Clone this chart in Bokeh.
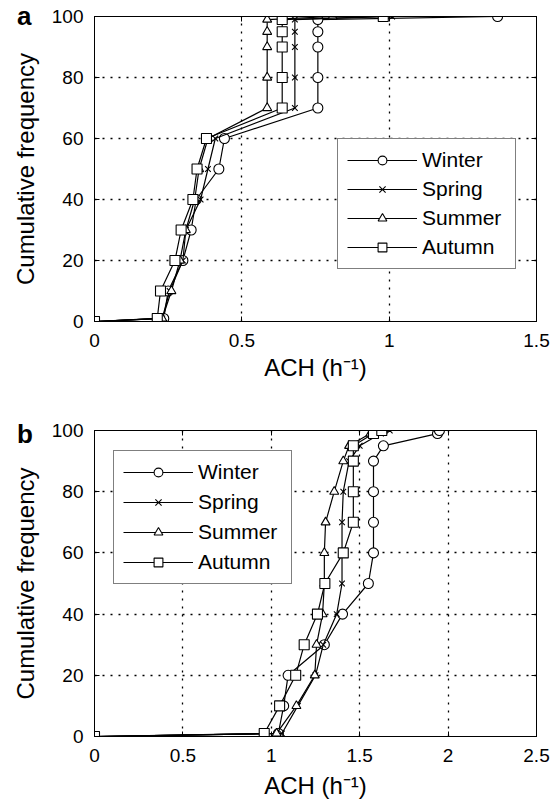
from bokeh.plotting import figure
from bokeh.models import FixedTicker, LinearAxis, Range1d, Legend, LegendItem, Div
from bokeh.layouts import column
from bokeh.embed import file_html
from bokeh.resources import INLINE

series_names = ["Winter", "Spring", "Summer", "Autumn"]
levels = [0, 1, 10, 20, 30, 40, 50, 60, 70, 80, 90, 95, 99, 100]

# Panel a
a_winter = [0, 0.235, 0.25, 0.30, 0.328, 0.345, 0.422, 0.441, 0.758, 0.758, 0.758, 0.758, 0.758, 1.368]
a_spring = [0, 0.23, 0.255, 0.30, 0.31, 0.36, 0.385, 0.41, 0.68, 0.68, 0.68, 0.68, 0.68, 1.01]
a_summer = [0, 0.23, 0.261, 0.29, 0.31, 0.34, 0.355, 0.385, 0.586, 0.586, 0.586, 0.586, 0.586, 0.808]
a_autumn = [0, 0.213, 0.224, 0.273, 0.294, 0.334, 0.348, 0.380, 0.637, 0.637, 0.637, 0.637, 0.637, 0.98]

# Panel b
b_winter = [0, 1.04, 1.07, 1.095, 1.30, 1.403, 1.549, 1.578, 1.578, 1.578, 1.578, 1.634, 1.94, 1.951]
b_spring = [0, 1.06, 1.15, 1.25, 1.294, 1.37, 1.40, 1.40, 1.40, 1.407, 1.44, 1.50, 1.62, 1.67]
b_summer = [0, 1.03, 1.142, 1.246, 1.256, 1.29, 1.30, 1.30, 1.307, 1.356, 1.407, 1.44, 1.56, 1.60]
b_autumn = [0, 0.96, 1.047, 1.138, 1.186, 1.261, 1.303, 1.407, 1.464, 1.464, 1.464, 1.464, 1.578, 1.625]

a_xticks = [0, 0.5, 1, 1.5]
a_xtick_labels = ["0", "0.5", "1", "1.5"]
b_xticks = [0, 0.5, 1, 1.5, 2, 2.5]
b_xtick_labels = ["0", "0.5", "1", "1.5", "2", "2.5"]
yticks = [0, 20, 40, 60, 80, 100]
ytick_labels = ["0", "20", "40", "60", "80", "100"]
panel_letters = ["a", "b"]

FONT = "Liberation Sans"
markers = ["circle", "x", "triangle", "square"]
msizes = [10, 8, 9, 10]


def make_panel(xs_list, x_end, xticks, xlabels,
               top_border, bottom_border, frame_h, legend_loc, legend_spacing, xlab_standoff):
    p = figure(output_backend="svg", toolbar_location=None,
               frame_width=442, frame_height=frame_h,
               min_border_left=94, min_border_right=14,
               min_border_top=top_border, min_border_bottom=bottom_border,
               x_range=Range1d(0, x_end), y_range=Range1d(0, 100),
               background_fill_color="white", border_fill_color="white")
    p.outline_line_color = "black"
    p.outline_line_width = 1
    for ax, ticks, labels in ((p.xaxis[0], xticks, xlabels), (p.yaxis[0], yticks, ytick_labels)):
        ax.ticker = FixedTicker(ticks=ticks)
        ax.major_label_overrides = {t: l for t, l in zip(ticks, labels)}
        ax.major_tick_in = 5
        ax.major_tick_out = 0
        ax.minor_tick_line_color = None
        ax.axis_line_color = "black"
        ax.major_tick_line_color = "black"
        ax.major_label_text_font = FONT
        ax.major_label_text_font_size = "19px"
        ax.major_label_text_color = "black"
        ax.axis_label_text_font = FONT
        ax.axis_label_text_font_size = "24px"
        ax.axis_label_text_font_style = "normal"
        ax.axis_label_text_color = "black"
    p.xaxis[0].axis_label = "ACH (h\u207b\u00b9)"
    p.xaxis[0].major_label_standoff = 12
    p.xaxis[0].axis_label_standoff = xlab_standoff
    p.yaxis[0].axis_label = "Cumulative frequency"
    p.yaxis[0].major_label_standoff = 11
    p.yaxis[0].axis_label_standoff = 10
    # mirror ticks on top and right
    top = LinearAxis(ticker=FixedTicker(ticks=xticks),
                     major_label_overrides={t: "" for t in xticks},
                     major_label_standoff=0, major_tick_in=5, major_tick_out=0,
                     minor_tick_line_color=None, axis_line_color="black")
    right = LinearAxis(ticker=FixedTicker(ticks=yticks),
                       major_label_overrides={t: "" for t in yticks},
                       major_label_standoff=0, major_tick_in=5, major_tick_out=0,
                       minor_tick_line_color=None, axis_line_color="black")
    p.add_layout(top, "above")
    p.add_layout(right, "right")
    p.xgrid[0].ticker = FixedTicker(ticks=xticks)
    p.ygrid[0].ticker = FixedTicker(ticks=yticks)
    for g in (p.xgrid[0], p.ygrid[0]):
        g.grid_line_color = "black"
        g.grid_line_dash = "2 6"
        g.grid_line_width = 1.3

    items = []
    for name, xs, mk, ms in zip(series_names, xs_list, markers, msizes):
        lr = p.line(xs, levels, line_color="black", line_width=1.2)
        sr = p.scatter(xs, levels, marker=mk, size=ms, fill_color="white",
                       line_color="black", line_width=1.1)
        items.append(LegendItem(label=name, renderers=[lr, sr]))
    leg = Legend(items=items, location=legend_loc, glyph_width=70, glyph_height=22,
                 label_height=22, label_width=84, label_standoff=5, padding=9,
                 spacing=legend_spacing, margin=0,
                 border_line_color="black", border_line_width=1.2,
                 background_fill_color="white", background_fill_alpha=1,
                 label_text_font=FONT, label_text_font_size="21px", label_text_color="black")
    p.add_layout(leg, "center")
    return p


def letter_div(letter, top_px):
    html = ('<div style="margin:0; padding:0; padding-left:17px; padding-top:%dpx; '
            'font-family:\'Liberation Sans\', Arial, sans-serif; font-size:26px; '
            'font-weight:bold; line-height:26px; color:black; white-space:nowrap;">%s</div>'
            % (top_px, letter))
    return Div(text=html, width=40, height=0, margin=0,
               styles={"z-index": "10", "overflow": "visible"},
               stylesheets=[":host{overflow:visible !important;} div{overflow:visible !important;}"])


pa = make_panel([a_winter, a_spring, a_summer, a_autumn], 1.5, a_xticks, a_xtick_labels,
                16, 74, 305, (243, 52), 5, 4)
pb = make_panel([b_winter, b_spring, b_summer, b_autumn], 2.5, b_xticks, b_xtick_labels,
                35, 62, 306, (19, 152), 6, 7)

layout = column(letter_div(panel_letters[0], 3), pa, letter_div(panel_letters[1], 26), pb,
                spacing=0)
open("out.html", "w").write(file_html(layout, INLINE))
